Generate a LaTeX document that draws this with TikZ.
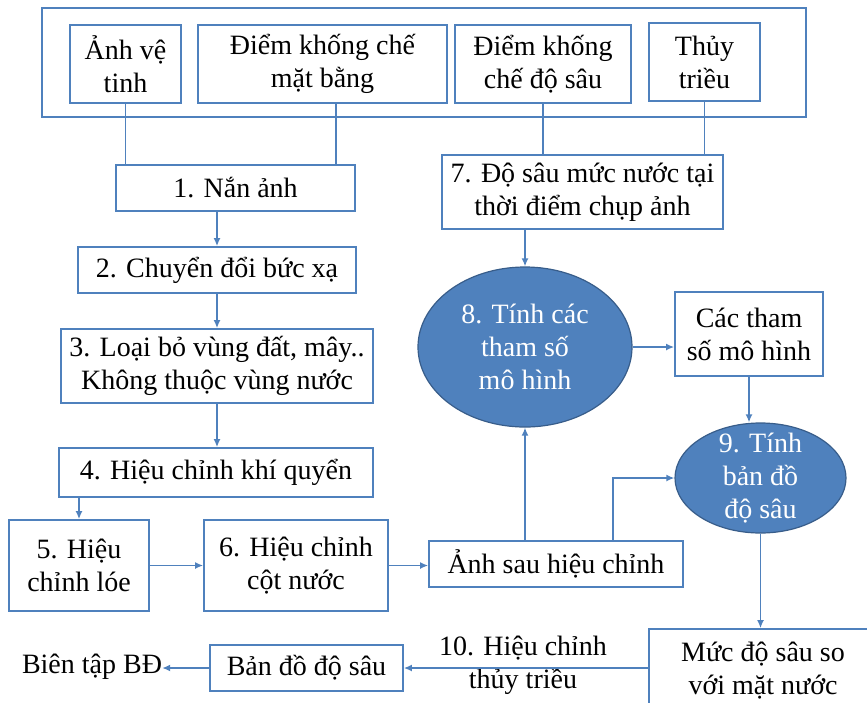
\documentclass[tikz,border=0pt]{standalone}
\usepackage{fontspec}
\setmainfont{Liberation Serif}
\usetikzlibrary{arrows.meta,positioning,calc,shapes.geometric}
\definecolor{xanh}{HTML}{4F81BD}
\definecolor{xanhdam}{HTML}{385D8A}
\begin{document}
\begin{tikzpicture}[x=1pt,y=-1pt,>={Latex[length=8pt,width=7pt]},font=\fontsize{28}{33}\selectfont]
  \tikzstyle{box}=[draw=xanh,line width=1.7pt,inner sep=0pt,align=center,fill=white]
  \tikzstyle{oval}=[ellipse,draw=xanhdam,line width=1.2pt,fill=xanh,inner sep=0pt]
  \tikzstyle{line}=[xanh,line width=1.7pt]
  \useasboundingbox (0,0) rectangle (867,702);
  \clip (0,0) rectangle (867,702);

  \node[box,minimum width=764pt,minimum height=109pt] (nguon) at (424,62.5) {};
  \node[box,minimum width=111pt,minimum height=78pt] (anh) at (125.5,64) {Ảnh vệ\\tinh};
  \node[box,minimum width=249pt,minimum height=78pt] (matbang) at (322.5,64) {Điểm khống chế\\mặt bằng};
  \node[box,minimum width=176pt,minimum height=78pt] (dosau) at (543,64) {Điểm khống\\chế độ sâu};
  \node[box,minimum width=111pt,minimum height=78pt] (thuy) at (704.5,62) {Thủy\\triều};

  \node[box,minimum width=239pt,minimum height=46pt] (b1) at (235.5,188) {1. Nắn ảnh};
  \node[box,minimum width=278pt,minimum height=46pt] (b2) at (217,270) {2. Chuyển đổi bức xạ};
  \node[box,minimum width=312pt,minimum height=74pt] (b3) at (217,366) {3. Loại bỏ vùng đất, mây..\\Không thuộc vùng nước};
  \node[box,minimum width=314pt,minimum height=49pt] (b4) at (216,472.5) {4. Hiệu chỉnh khí quyển};
  \node[box,minimum width=140pt,minimum height=91pt] (b5) at (79,565.5) {5. Hiệu\\chỉnh lóe};
  \node[box,minimum width=184pt,minimum height=91pt] (b6) at (296,565.5) {6. Hiệu chỉnh\\cột nước};
  \node[box,minimum width=254pt,minimum height=46pt] (anhsau) at (556,564) {Ảnh sau hiệu chỉnh};

  \node[box,minimum width=281pt,minimum height=74pt] (b7) at (582.5,192) {7. Độ sâu mức nước tại\\thời điểm chụp ảnh};
  \node[oval,minimum width=214pt,minimum height=160pt,text=white,align=center] (b8) at (525,347) {8. Tính các\\tham số\\mô hình};
  \node[box,minimum width=148pt,minimum height=84pt] (thamso) at (749,334) {Các tham\\số mô hình};
  \node[oval,minimum width=171pt,minimum height=110pt] (b9) at (760.5,478) {};
  \node[text=white,align=center,inner sep=0pt] (b9chu) at (b9) {9. Tính\\bản đồ\\độ sâu};

  \node[box,minimum width=228pt,minimum height=84pt] (muc) at (763,671) {Mức độ sâu so\\với mặt nước};
  \node[box,minimum width=193pt,minimum height=46pt] (bando) at (306.5,668) {Bản đồ độ sâu};
  \node[inner sep=0pt] (bientap) at (92,667) {Biên tập BĐ};
  \node[align=center,inner sep=0pt] (b10) at (523,665) {10. Hiệu chỉnh\\thủy triều};

  \draw[line] (anh.south) -- (anh.south |- b1.north);
  \draw[line] ([xshift=13.5pt]matbang.south) -- ([xshift=13.5pt]matbang.south |- b1.north);
  \draw[line] (dosau.south) -- (dosau.south |- b7.north);
  \draw[line] (thuy.south) -- (thuy.south |- b7.north);

  \draw[line,->] (b1.south -| b2.north) -- (b2.north);
  \draw[line,->] (b2.south) -- (b3.north);
  \draw[line,->] (b3.south) -- (b3.south |- b4.north);
  \draw[line,->] (b4.south -| b5.north) -- (b5.north);
  \draw[line,->] (b5.east) -- (b6.west);
  \draw[line,->] (b6.east) -- (b6.east -| anhsau.west);

  \draw[line,->] (b7.south -| b8.north) -- (b8.north);
  \draw[line,->] (anhsau.north -| b8.south) -- (b8.south);
  \draw[line,->] ([xshift=57pt]anhsau.north) |- (b9.west);
  \draw[line,->] (b8.east) -- (b8.east -| thamso.west);
  \draw[line,->] (thamso.south) -- (thamso.south |- b9.north);
  \draw[line,->] (b9.south) -- (b9.south |- muc.north);
  \draw[line,->] (muc.west |- bando.east) -- (bando.east);
  \draw[line,->] (bando.west) -- (bando.west -| bientap.east);
\end{tikzpicture}
\end{document}
